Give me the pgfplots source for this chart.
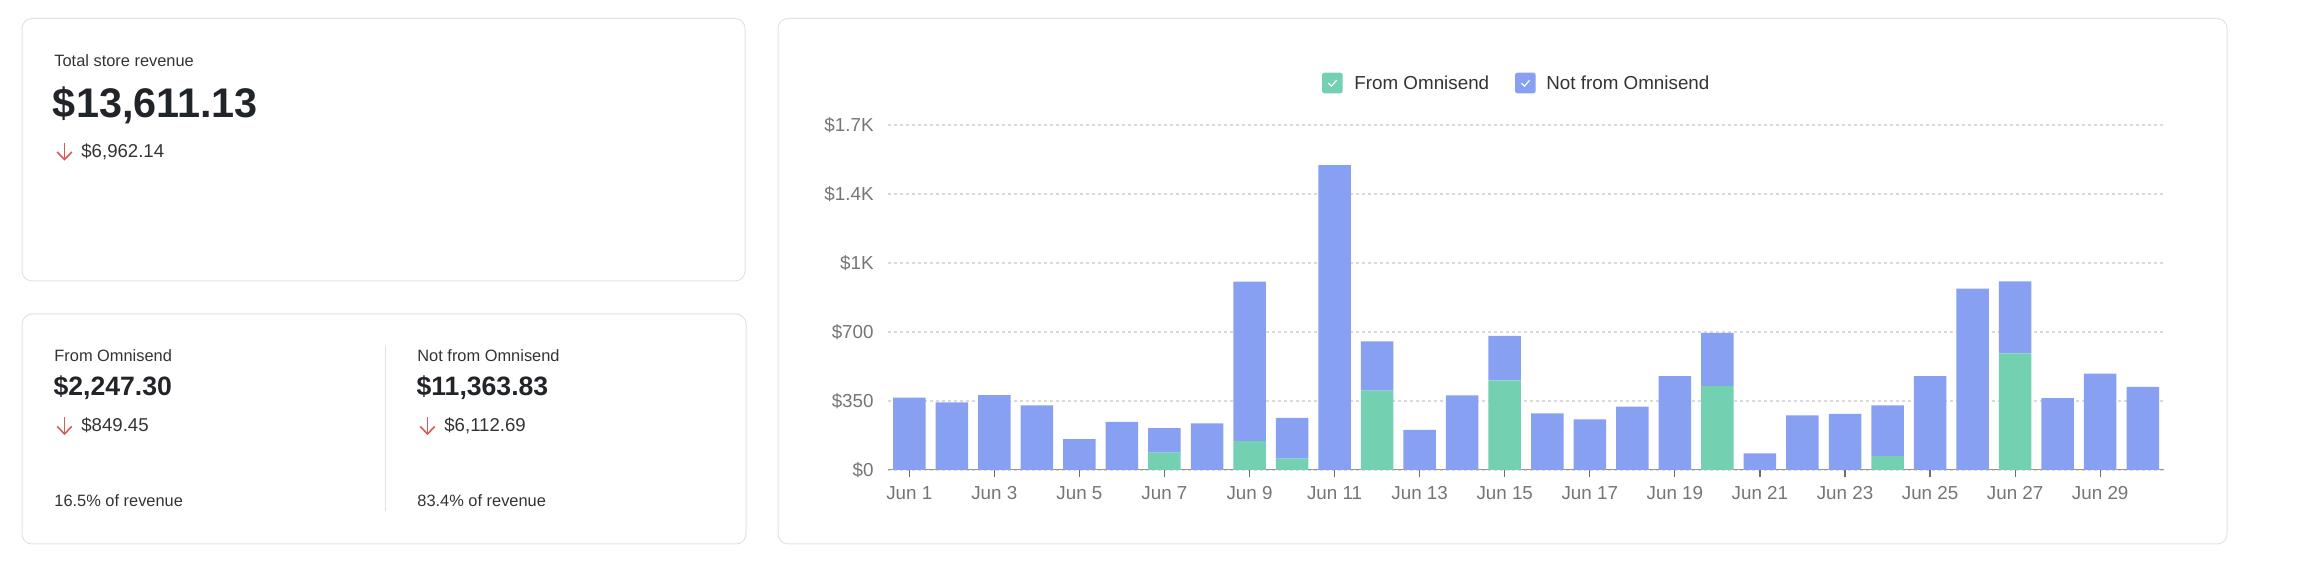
\documentclass[border=0pt]{standalone}
\usepackage{fontspec}
\setmainfont{Liberation Sans}
\usepackage{pgfplots}
\usepackage{pgfplotstable}
\pgfplotsset{compat=1.18}

\definecolor{barblue}{RGB}{135,160,242}
\definecolor{bargreen}{RGB}{115,209,177}
\definecolor{panelborder}{RGB}{226,226,226}
\definecolor{txtdark}{RGB}{33,37,41}
\definecolor{txtlabel}{RGB}{51,51,51}
\definecolor{ticktxt}{RGB}{117,117,117}
\definecolor{gridc}{RGB}{218,218,218}
\definecolor{axisgray}{RGB}{150,150,150}
\definecolor{tickgray}{RGB}{110,110,110}
\definecolor{arrowred}{RGB}{214,92,88}

\pgfplotstableread{
day omni not
1 0 367
2 0 343
3 0 380
4 0 328
5 0 157
6 0 244
7 88 124
8 0 236
9 146 810
10 58 206
11 0 1546
12 403 249
13 0 204
14 0 378
15 455 225
16 0 287
17 0 257
18 0 322
19 0 476
20 427 268
21 0 84
22 0 277
23 0 285
24 71 257
25 0 476
26 0 920
27 592 365
28 0 365
29 0 489
30 0 422
}\revdata

\newcommand{\fs}[1]{\fontsize{#1}{#1}\selectfont}

\begin{document}
\begin{tikzpicture}
\useasboundingbox (0,0) rectangle (1162pt,-288pt);

% panels
\draw[panelborder, line width=0.5pt, rounded corners=5pt] (11pt,-9.25pt) rectangle (372.5pt,-140.5pt);
\draw[panelborder, line width=0.5pt, rounded corners=5pt] (11pt,-157pt) rectangle (373pt,-272pt);
\draw[panelborder, line width=0.5pt, rounded corners=5pt] (389pt,-9.25pt) rectangle (1113.5pt,-272pt);
\draw[panelborder, line width=0.5pt] (192.5pt,-173pt) -- (192.5pt,-255.5pt);

% top-left panel
\node[anchor=base west, inner sep=0pt, text=txtlabel] at (27pt,-33.35pt) {\fs{8.2}Total store revenue};
\node[anchor=base west, inner sep=0pt, text=txtdark] at (26.3pt,-58.65pt) {\fs{20.7}\bfseries \$13,611.13};
\draw[arrowred, line width=0.8pt] (32.25pt,-71.35pt) -- (32.25pt,-79.6pt);
\draw[arrowred, line width=0.8pt, line join=miter] (28.6pt,-76pt) -- (32.25pt,-79.8pt) -- (35.9pt,-76pt);
\node[anchor=base west, inner sep=0pt, text=txtlabel] at (40.5pt,-78.65pt) {\fs{9.3}\$6,962.14};

% bottom-left panel, left column
\node[anchor=base west, inner sep=0pt, text=txtlabel] at (27pt,-181pt) {\fs{8.2}From Omnisend};
\node[anchor=base west, inner sep=0pt, text=txtdark] at (26.6pt,-198pt) {\fs{13.3}\bfseries \$2,247.30};
\draw[arrowred, line width=0.8pt] (32.25pt,-208.5pt) -- (32.25pt,-216.8pt);
\draw[arrowred, line width=0.8pt, line join=miter] (28.6pt,-213.2pt) -- (32.25pt,-217pt) -- (35.9pt,-213.2pt);
\node[anchor=base west, inner sep=0pt, text=txtlabel] at (40.5pt,-215.75pt) {\fs{9.3}\$849.45};
\node[anchor=base west, inner sep=0pt, text=txtlabel] at (27pt,-253.5pt) {\fs{8.2}16.5\% of revenue};

% bottom-left panel, right column
\node[anchor=base west, inner sep=0pt, text=txtlabel] at (208.5pt,-181pt) {\fs{8.2}Not from Omnisend};
\node[anchor=base west, inner sep=0pt, text=txtdark] at (208.1pt,-198pt) {\fs{13.3}\bfseries \$11,363.83};
\draw[arrowred, line width=0.8pt] (213.75pt,-208.5pt) -- (213.75pt,-216.8pt);
\draw[arrowred, line width=0.8pt, line join=miter] (210.1pt,-213.2pt) -- (213.75pt,-217pt) -- (217.4pt,-213.2pt);
\node[anchor=base west, inner sep=0pt, text=txtlabel] at (222pt,-215.75pt) {\fs{9.3}\$6,112.69};
\node[anchor=base west, inner sep=0pt, text=txtlabel] at (208.5pt,-253.5pt) {\fs{8.2}83.4\% of revenue};

% legend
\fill[bargreen, rounded corners=1.2pt] (661pt,-36.35pt) rectangle (671.35pt,-46.65pt);
\draw[white, line width=0.6pt] (664.2pt,-41.6pt) -- (665.7pt,-43.1pt) -- (668.3pt,-40.1pt);
\node[anchor=base west, inner sep=0pt, text=txtlabel] at (677pt,-44.65pt) {\fs{9.4}From Omnisend};
\fill[barblue, rounded corners=1.2pt] (757.5pt,-36.35pt) rectangle (767.85pt,-46.65pt);
\draw[white, line width=0.6pt] (760.7pt,-41.6pt) -- (762.2pt,-43.1pt) -- (764.8pt,-40.1pt);
\node[anchor=base west, inner sep=0pt, text=txtlabel] at (773pt,-44.65pt) {\fs{9.4}Not from Omnisend};

\begin{axis}[
  at={(444pt,-235pt)}, anchor=south west,
  scale only axis, width=638pt, height=172.5pt,
  xmin=0.5, xmax=30.5, ymin=0, ymax=1750,
  ybar stacked, bar width=16.25pt,
  axis lines*=left,
  x axis line style={draw=none},
  y axis line style={draw=none},
  ytick={0,350,700,1050,1400,1750},
  yticklabels={\$0,\$350,\$700,\$1K,\$1.4K,\$1.7K},
  ymajorgrids,
  major grid style={gridc, line width=1pt, dash pattern=on 1.5pt off 1.5pt},
  xtick={1,3,...,29},
  xticklabels={Jun 1,Jun 3,Jun 5,Jun 7,Jun 9,Jun 11,Jun 13,Jun 15,Jun 17,Jun 19,Jun 21,Jun 23,Jun 25,Jun 27,Jun 29},
  xtick align=outside, ytick align=inside,
  major tick length=3.7pt,
  x tick style={draw=tickgray, line width=0.6pt},
  y tick style={draw=none},
  ticklabel style={font=\fs{9.4}, text=ticktxt},
  xticklabel style={anchor=base, inner sep=0pt, yshift=-11.3pt},
  yticklabel style={anchor=east, inner sep=0pt, xshift=-7pt},
]
\addplot[fill=bargreen, draw=none] table[x=day, y=omni] {\revdata};
\addplot[fill=barblue, draw=none] table[x=day, y=not] {\revdata};
\draw[axisgray, line width=0.8pt] (rel axis cs:0,0) -- (rel axis cs:1,0);
\end{axis}
\end{tikzpicture}
\end{document}
